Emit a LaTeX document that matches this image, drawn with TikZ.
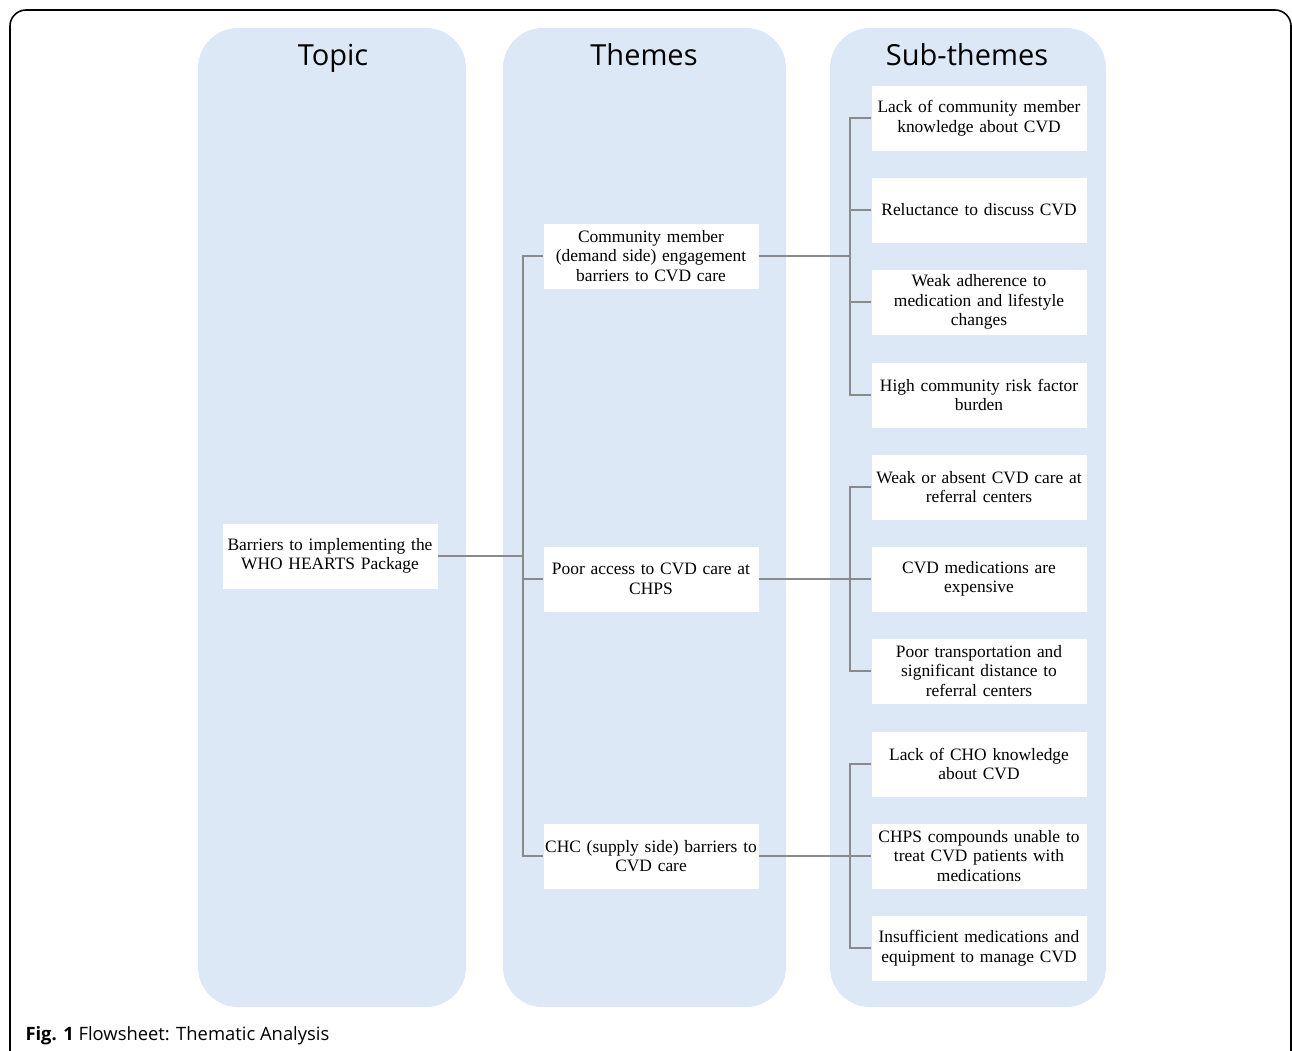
\documentclass[tikz,border=0pt]{standalone}
\usepackage{fontspec}
\setmainfont{Liberation Serif}
\newfontfamily\headfont{Open Sans}
\usepackage{tikz}
\definecolor{colbg}{RGB}{220,232,245}
\definecolor{lnk}{RGB}{138,138,138}
\def\COL#1#2{\fill [colbg,rounded corners=40] (#1,28) rectangle (#2,1007);}

\begin{document}
\begin{tikzpicture}[x=1pt,y=-1pt,
    box/.style={fill=white,minimum width=215,minimum height=65,text width=214,
      align=center,inner sep=0,font=\fontsize{17.4}{19.5}\selectfont},
    head/.style={anchor=base,font=\headfont\fontsize{29}{32}\selectfont},
    conn/.style={draw=lnk,line width=1.8}]
  \useasboundingbox (0,0) rectangle (1292,1050);
  \draw [line width=1.6,rounded corners=16] (10,10) rectangle (1291,1080);
  \COL{198}{466} \COL{503}{786} \COL{830}{1106}
  \node [head] (htopic) at (333,65) {Topic};
  \node [head] (hthemes) at (644,65) {Themes};
  \node [head] (hsub) at (967,65) {Sub-themes};
  % topic and themes
  \node [box] (topic) at (330,556) {Barriers to implementing the\\WHO HEARTS Package};
  \node [box] (th1) at (651,256) {Community member\\(demand side) engagement\\barriers to CVD care};
  \node [box] (th2) at (651,579) {Poor access to CVD care at\\CHPS};
  \node [box] (th3) at (651,856) {CHC (supply side) barriers to\\CVD care};
  % sub-themes
  \node [box] (s1) at (979,118) {Lack of community member\\knowledge about CVD};
  \node [box] (s2) at (979,210) {Reluctance to discuss CVD};
  \node [box] (s3) at (979,302) {Weak adherence to\\medication and lifestyle\\changes};
  \node [box] (s4) at (979,395) {High community risk factor\\burden};
  \node [box] (s5) at (979,487) {Weak or absent CVD care at\\referral centers};
  \node [box] (s6) at (979,579) {CVD medications are\\expensive};
  \node [box] (s7) at (979,671) {Poor transportation and\\significant distance to\\referral centers};
  \node [box] (s8) at (979,764) {Lack of CHO knowledge\\about CVD};
  \node [box] (s9) at (979,856) {CHPS compounds unable to\\treat CVD patients with\\medications};
  \node [box] (s10) at (979,948) {Insufficient medications and\\equipment to manage CVD};
  % joints
  \coordinate (jt) at (523,556);
  \coordinate (j1) at (850,256);
  \coordinate (j2) at (850,579);
  \coordinate (j3) at (850,856);
  \draw [conn] (topic.east) -- (jt);
  \foreach \t in {th1,th2,th3} \draw [conn] (\t.west) -| (jt);
  \draw [conn] (th1.east) -- (j1);
  \draw [conn] (th2.east) -- (j2);
  \draw [conn] (th3.east) -- (j3);
  \foreach \s in {s1,s2,s3,s4} \draw [conn] (\s.west) -| (j1);
  \foreach \s in {s5,s6,s7} \draw [conn] (\s.west) -| (j2);
  \foreach \s in {s8,s9,s10} \draw [conn] (\s.west) -| (j3);
  \node [anchor=base west,font=\headfont\fontsize{18.4}{22}\selectfont] (cap) at (22,1040)
    {\textbf{Fig. 1} Flowsheet: Thematic Analysis};
\end{tikzpicture}
\end{document}
